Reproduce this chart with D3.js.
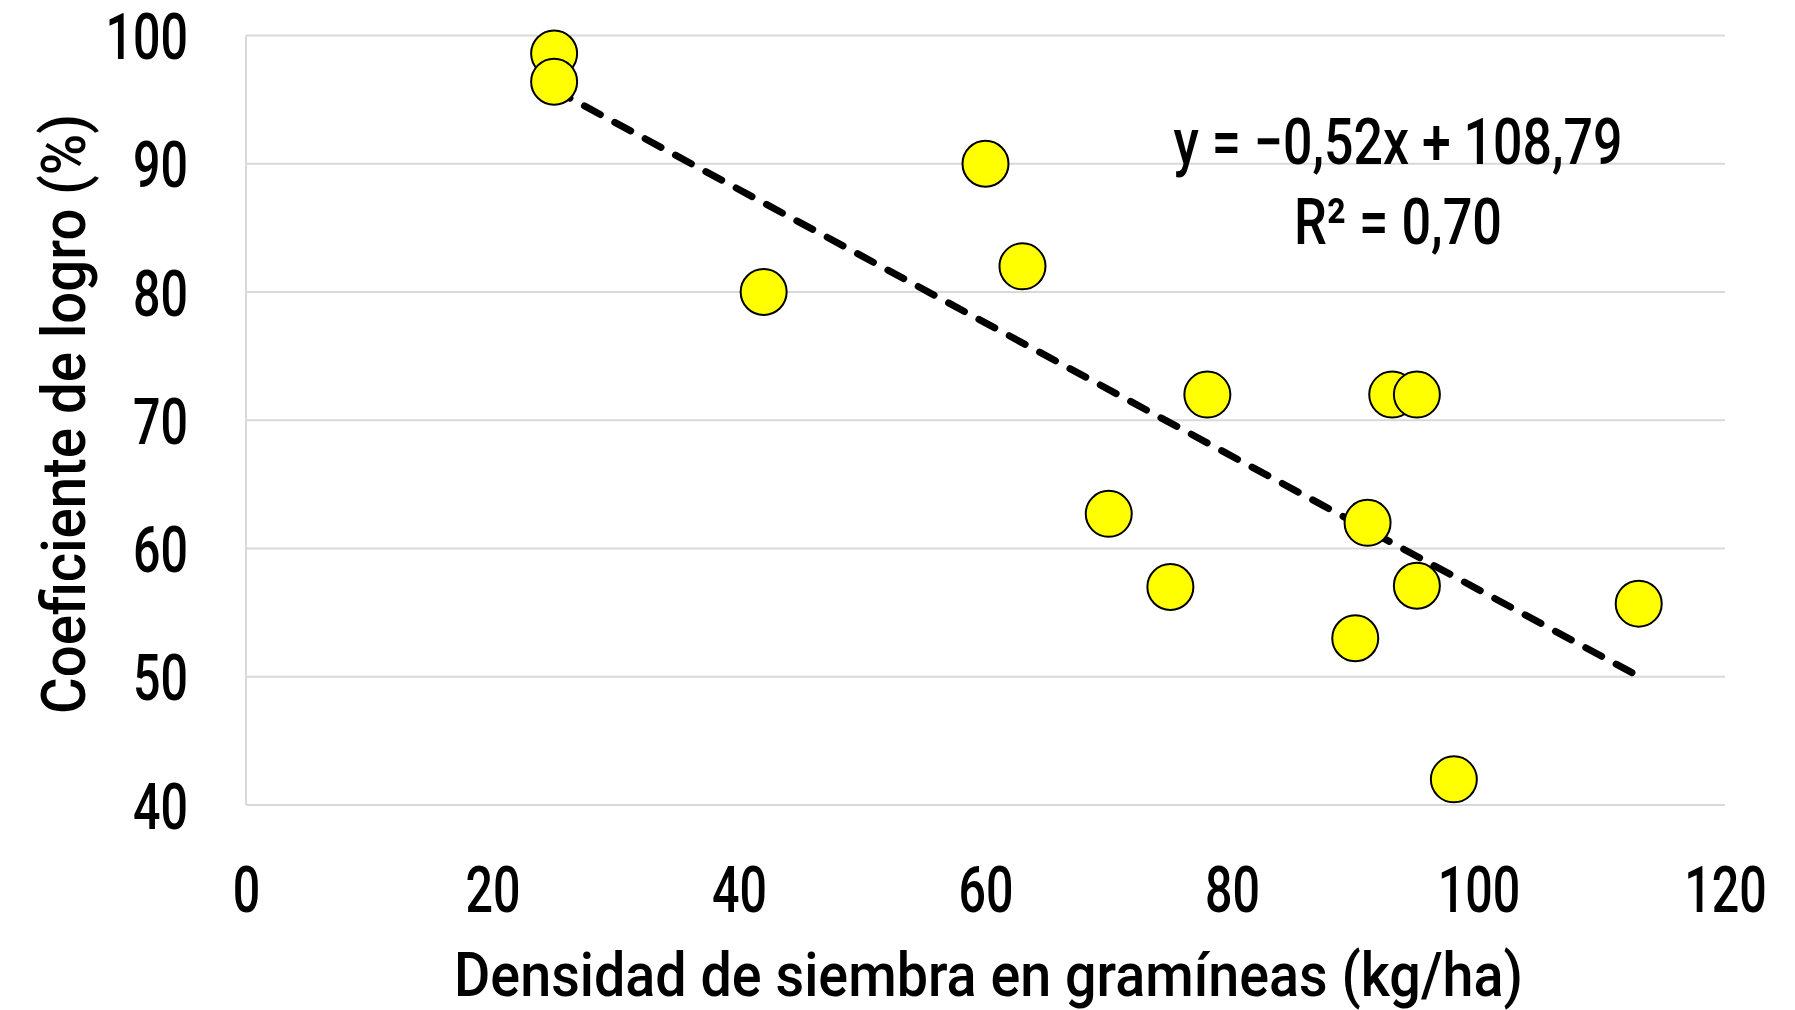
<!DOCTYPE html>
<html>
<head>
<meta charset="utf-8">
<script src="https://cdn.jsdelivr.net/npm/d3@7"></script>
<style>
  body { margin: 0; background: #fff; }
  text { font-family: Roboto, "DejaVu Sans", sans-serif; font-weight: 500; fill: #000; }
  .grid line { stroke: #d9d9d9; stroke-width: 2; }
</style>
</head>
<body>
<script>
(function() {

//data
var densidad = [25, 25, 42, 60, 63, 70, 75, 78, 90, 91, 93, 95, 95, 98, 113];
var logro    = [98.6, 96.4, 80, 90, 82, 62.7, 57, 72, 53, 62, 72, 72, 57.1, 42, 55.7];
var xTicks = [0, 20, 40, 60, 80, 100, 120];
var yTicks = [40, 50, 60, 70, 80, 90, 100];
var slope = -0.52, intercept = 108.79;
var trendRange = [25, 113];
var eqLines = ["y = \u22120,52x + 108,79", "R\u00b2 = 0,70"];
var eqWidths = [449, 208];

var width = 1795, height = 1010;
var left = 246, right = 1725, top = 35.5, bottom = 805;
var digitWidth = 27.5;   //condensed look: fixed width per digit

var svg = d3.select("body").append("svg")
    .attr("width", width)
    .attr("height", height);

var x = d3.scaleLinear().domain([0, 120]).range([left, right]);
var y = d3.scaleLinear().domain([40, 100]).range([bottom, top]);

//horizontal gridlines
svg.append("g")
    .attr("class", "grid")
    .selectAll("line")
    .data(yTicks)
    .enter()
    .append("line")
    .attr("x1", left)
    .attr("x2", right)
    .attr("y1", function(d) { return y(d); })
    .attr("y2", function(d) { return y(d); });

//left frame line
svg.append("line")
    .attr("x1", left).attr("x2", left)
    .attr("y1", top).attr("y2", bottom)
    .attr("stroke", "#d9d9d9")
    .attr("stroke-width", 2);

function squeeze(sel) {
    sel.attr("font-size", 64)
        .attr("fill", "#000")
        .attr("textLength", function(d) { return String(d).length * digitWidth; })
        .attr("lengthAdjust", "spacingAndGlyphs");
}

//y tick labels
var yAxis = d3.axisLeft(y).tickValues(yTicks).tickSize(0).tickPadding(58);
svg.append("g")
    .attr("transform", "translate(" + left + ",0)")
    .call(yAxis)
    .call(function(g) { g.select(".domain").remove(); })
    .selectAll("text")
    .call(squeeze)
    .attr("dy", "0.36em");

//x tick labels
var xAxis = d3.axisBottom(x).tickValues(xTicks).tickSize(0).tickPadding(0);
svg.append("g")
    .attr("transform", "translate(0," + bottom + ")")
    .call(xAxis)
    .call(function(g) { g.select(".domain").remove(); })
    .selectAll("text")
    .call(squeeze)
    .attr("dy", 107);

svg.selectAll("g[font-family]").attr("font-family", null);

//trend line
svg.append("line")
    .attr("x1", x(trendRange[0]))
    .attr("y1", y(slope * trendRange[0] + intercept))
    .attr("x2", x(trendRange[1]))
    .attr("y2", y(slope * trendRange[1] + intercept))
    .attr("stroke", "#000")
    .attr("stroke-width", 7)
    .attr("stroke-linecap", "round")
    .attr("stroke-dasharray", "18,16.5");

//points
svg.append("g")
    .selectAll("circle")
    .data(densidad)
    .enter()
    .append("circle")
    .attr("cx", function(d) { return x(d); })
    .attr("cy", function(d, i) { return y(logro[i]); })
    .attr("r", 23)
    .attr("fill", "#ffff00")
    .attr("stroke", "#000")
    .attr("stroke-width", 2);

//equation
svg.append("g")
    .selectAll("text")
    .data(eqLines)
    .enter()
    .append("text")
    .attr("x", 1398)
    .attr("y", function(d, i) { return 164 + i * 80; })
    .attr("text-anchor", "middle")
    .attr("font-size", 64)
    .attr("textLength", function(d, i) { return eqWidths[i]; })
    .attr("lengthAdjust", "spacingAndGlyphs")
    .text(function(d) { return d; });

//axis titles
svg.append("text")
    .attr("x", (left + right) / 2 + 3)
    .attr("y", 996)
    .attr("text-anchor", "middle")
    .attr("font-size", 62)
    .attr("textLength", 1069)
    .attr("lengthAdjust", "spacingAndGlyphs")
    .text("Densidad de siembra en gramíneas (kg/ha)");

svg.append("text")
    .attr("transform", "translate(85,414) rotate(-90)")
    .attr("text-anchor", "middle")
    .attr("font-size", 62)
    .attr("textLength", 600)
    .attr("lengthAdjust", "spacingAndGlyphs")
    .text("Coeficiente de logro (%)");

})();
</script>
</body>
</html>
